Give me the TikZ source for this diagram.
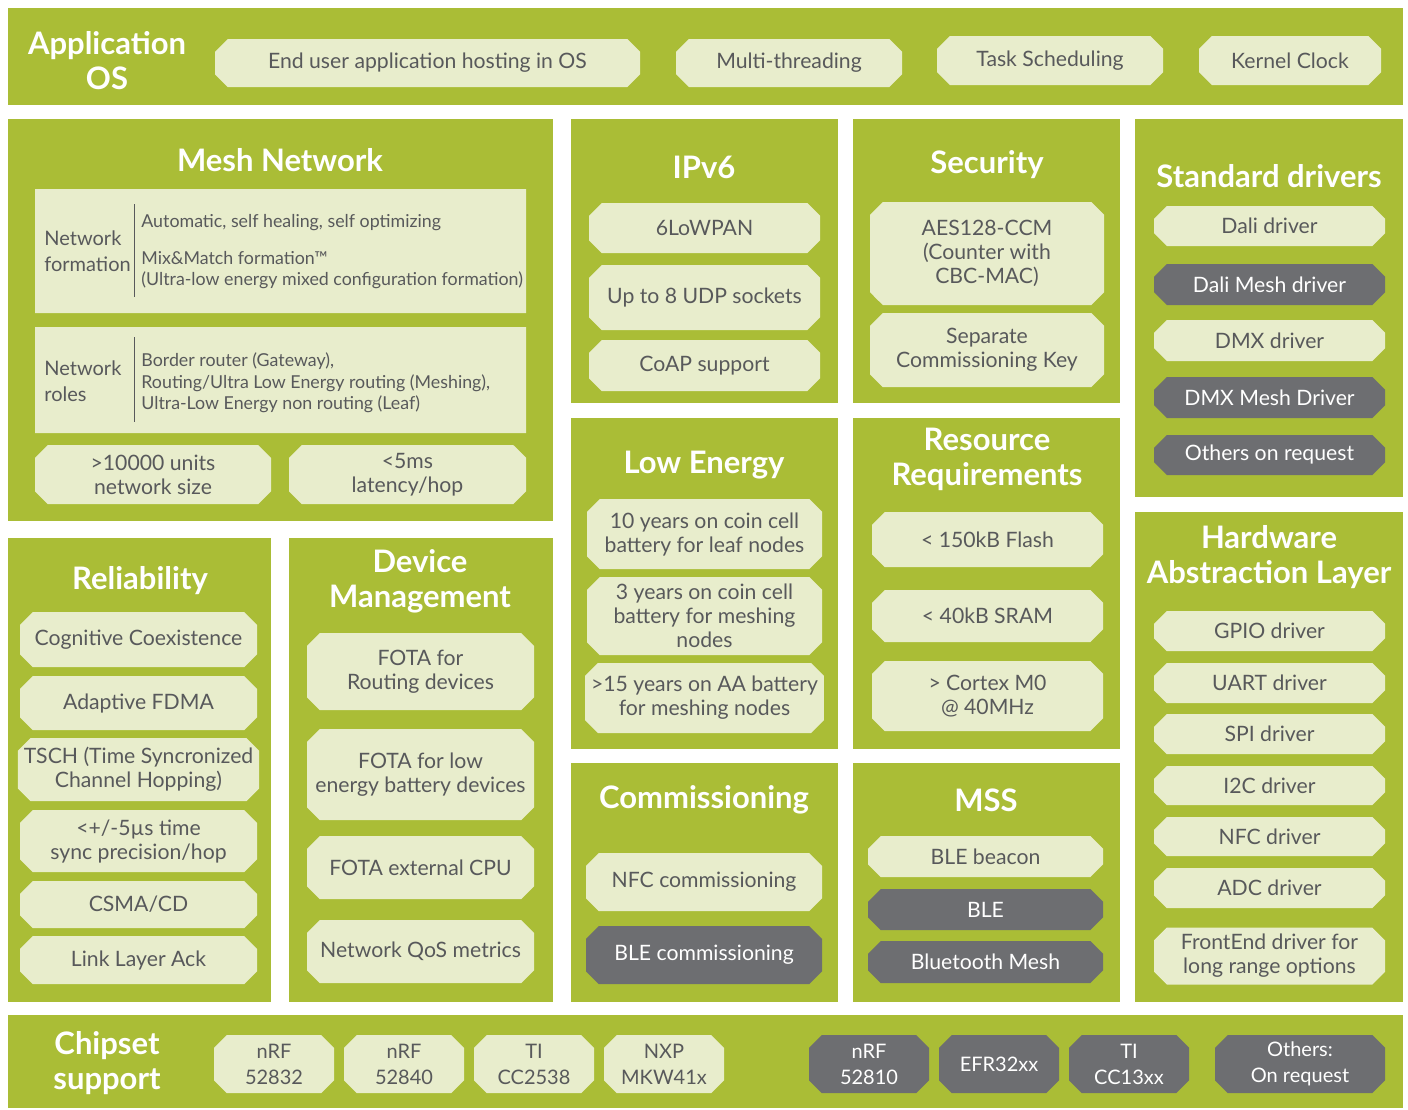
\documentclass[tikz,border=0pt]{standalone}
\usepackage{fontspec}
\setmainfont{Lato}
\usetikzlibrary{shapes.misc}

\definecolor{panelgreen}{HTML}{AABD36}
\definecolor{boxlight}{HTML}{E8EDCC}
\definecolor{boxdark}{HTML}{6D6E71}
\definecolor{boxtext}{HTML}{58595B}

\tikzset{
  panel/.style={fill=panelgreen},
  title/.style={text=white, align=center, inner sep=0pt,
    font=\fontsize{15.5}{17.5}\selectfont\bfseries},
  lbox/.style={chamfered rectangle, chamfered rectangle xsep=3pt,
    fill=boxlight, text=boxtext, inner sep=0pt, align=center,
    font=\fontsize{10.6}{12}\selectfont},
  dbox/.style={lbox, fill=boxdark, text=white},
  note/.style={text=boxtext, align=left, inner sep=0pt,
    font=\fontsize{8.9}{10.8}\selectfont},
}

% box from its corners (in px)
\newcommand{\cell}[7]{%
  \node[#2, minimum width={(#5-#3)*0.5pt}, minimum height={(#6-#4)*0.5pt}]
    (#1) at ({(#3+#5)/2},{(#4+#6)/2}) {#7};}

\begin{document}
\begin{tikzpicture}[x=0.5pt, y=-0.5pt]
\useasboundingbox[fill=white] (0,0) rectangle (1408,1109);

% application OS:
\fill[panel] (8,8) rectangle (1403,105);
\node[title] (apptitle) at (107,61) {Application\\OS};
\cell{enduser}{lbox}{215}{39}{640}{87}{End user application hosting in OS}
\cell{multithread}{lbox}{676}{39}{902}{87}{Multi-threading}
\cell{tasksched}{lbox}{937}{36}{1163}{85}{Task Scheduling}
\cell{kernelclk}{lbox}{1199}{36}{1381}{85}{Kernel Clock}

% mesh network:
\fill[panel] (8,119) rectangle (553,521);
\node[title] (meshtitle) at (280,160) {Mesh Network};
\cell{formation}{lbox}{35}{189}{526}{313}{}
\draw[boxtext] (134,204) -- (134,297);
\node[note, anchor=west, font=\fontsize{10}{13}\selectfont] (formlabel) at (44,251) {Network\\formation};
\node[note, anchor=west] (formauto) at (141,223) {Automatic, self healing, self optimizing};
\node[note, anchor=west] (formmix) at (141,270) {Mix\&Match formation™\\(Ultra-low energy mixed configuration formation)};
\cell{roles}{lbox}{35}{327}{526}{433}{}
\draw[boxtext] (134,337) -- (134,422);
\node[note, anchor=west, font=\fontsize{10}{13}\selectfont] (roleslabel) at (44,381) {Network\\roles};
\node[note, anchor=west] (rolestext) at (141,383) {Border router (Gateway),\\Routing/Ultra Low Energy routing (Meshing),\\Ultra-Low Energy non routing (Leaf)};
\cell{netsize}{lbox}{35}{445}{271}{504}{>10000 units\\network size}
\cell{latency}{lbox}{289}{445}{526}{504}{<5ms\\latency/hop}

% IPv6:
\fill[panel] (571,119) rectangle (838,403);
\node[title] (ipvtitle) at (704,167) {IPv6};
\cell{lowpan}{lbox}{589}{203}{820}{253}{6LoWPAN}
\cell{udp}{lbox}{589}{265}{820}{330}{Up to 8 UDP sockets}
\cell{coap}{lbox}{589}{340}{820}{391}{CoAP support}

% security:
\fill[panel] (853,119) rectangle (1120,403);
\node[title] (sectitle) at (987,165) {Security};
\cell{aes}{lbox}{870}{202}{1104}{305}{AES128-CCM\\(Counter with\\CBC-MAC)}
\cell{commkey}{lbox}{870}{313}{1104}{387}{Separate\\Commissioning Key}

% standard drivers:
\fill[panel] (1135,119) rectangle (1403,497);
\node[title] (drvtitle) at (1269,176) {Standard drivers};
\cell{dali}{lbox}{1154}{206}{1385}{246}{Dali driver}
\cell{dalimesh}{dbox}{1154}{264}{1385}{305}{Dali Mesh driver}
\cell{dmx}{lbox}{1154}{320}{1385}{361}{DMX driver}
\cell{dmxmesh}{dbox}{1154}{377}{1385}{418}{DMX Mesh Driver}
\cell{drvother}{dbox}{1154}{435}{1385}{475}{Others on request}

% low energy:
\fill[panel] (571,418) rectangle (838,749);
\node[title] (lowtitle) at (704,465) {Low Energy};
\cell{leafbat}{lbox}{587}{499}{822}{569}{10 years on coin cell\\battery for leaf nodes}
\cell{meshbat}{lbox}{587}{577}{822}{655}{3 years on coin cell\\battery for meshing\\nodes}
\cell{aabat}{lbox}{587}{663}{822}{733}{>15 years on AA battery\\for meshing nodes}

% resource requirements:
\fill[panel] (853,418) rectangle (1120,749);
\node[title] (restitle) at (987,459) {Resource\\Requirements};
\cell{flash}{lbox}{872}{512}{1103}{567}{< 150kB Flash}
\cell{sram}{lbox}{872}{590}{1103}{642}{< 40kB SRAM}
\cell{cortex}{lbox}{872}{661}{1103}{731}{> Cortex M0\\@ 40MHz}

% hardware abstraction layer:
\fill[panel] (1135,512) rectangle (1403,1002);
\node[title] (haltitle) at (1269,557) {Hardware\\Abstraction Layer};
\cell{gpio}{lbox}{1154}{611}{1385}{651}{GPIO driver}
\cell{uart}{lbox}{1154}{663}{1385}{703}{UART driver}
\cell{spi}{lbox}{1154}{714}{1385}{754}{SPI driver}
\cell{itwoc}{lbox}{1154}{766}{1385}{805}{I2C driver}
\cell{nfcdrv}{lbox}{1154}{817}{1385}{856}{NFC driver}
\cell{adc}{lbox}{1154}{868}{1385}{908}{ADC driver}
\cell{frontend}{lbox}{1154}{929}{1385}{983}{FrontEnd driver for\\long range options}

% reliability:
\fill[panel] (8,538) rectangle (271,1002);
\node[title] (reltitle) at (140,581) {Reliability};
\cell{cognitive}{lbox}{20}{612}{257}{667}{Cognitive Coexistence}
\cell{fdma}{lbox}{20}{676}{257}{730}{Adaptive FDMA}
\cell{tsch}{lbox}{20}{738}{257}{801}{TSCH (Time Syncronized\\Channel Hopping)}
\cell{syncprec}{lbox}{20}{810}{257}{872}{<+/-5µs time\\sync precision/hop}
\cell{csma}{lbox}{20}{881}{257}{928}{CSMA/CD}
\cell{linkack}{lbox}{20}{936}{257}{984}{Link Layer Ack}

% device management:
\fill[panel] (289,538) rectangle (553,1002);
\node[title] (devtitle) at (420,581) {Device\\Management};
\cell{fotarout}{lbox}{307}{633}{534}{710}{FOTA for\\Routing devices}
\cell{fotalow}{lbox}{307}{729}{534}{820}{FOTA for low\\energy battery devices}
\cell{fotacpu}{lbox}{307}{836}{534}{899}{FOTA external CPU}
\cell{qos}{lbox}{307}{920}{534}{983}{Network QoS metrics}

% commissioning:
\fill[panel] (571,763) rectangle (838,1002);
\node[title] (comtitle) at (704,800) {Commissioning};
\cell{nfccom}{lbox}{586}{853}{822}{911}{NFC commissioning}
\cell{blecom}{dbox}{586}{926}{822}{984}{BLE commissioning}

% MSS:
\fill[panel] (853,763) rectangle (1120,1002);
\node[title] (msstitle) at (986,800) {MSS};
\cell{beacon}{lbox}{868}{836}{1103}{877}{BLE beacon}
\cell{ble}{dbox}{868}{889}{1103}{930}{BLE}
\cell{btmesh}{dbox}{868}{941}{1103}{983}{Bluetooth Mesh}

% chipset support:
\fill[panel] (8,1015) rectangle (1403,1108);
\node[title] (chiptitle) at (107,1063) {Chipset\\support};
\tikzset{chip/.style={font=\fontsize{10}{13}\selectfont}}
\cell{nrfa}{lbox,chip}{214}{1035}{334}{1093}{nRF\\52832}
\cell{nrfb}{lbox,chip}{344}{1035}{464}{1093}{nRF\\52840}
\cell{cctwo}{lbox,chip}{474}{1035}{594}{1093}{TI\\CC2538}
\cell{nxp}{lbox,chip}{604}{1035}{724}{1093}{NXP\\MKW41x}
\cell{nrfc}{dbox,chip}{809}{1035}{929}{1093}{nRF\\52810}
\cell{efr}{dbox,chip}{939}{1035}{1059}{1093}{EFR32xx}
\cell{ccthirteen}{dbox,chip}{1069}{1035}{1189}{1093}{TI\\CC13xx}
\cell{chipother}{dbox,chip}{1215}{1035}{1385}{1093}{Others:\\On request}

\end{tikzpicture}
\end{document}
